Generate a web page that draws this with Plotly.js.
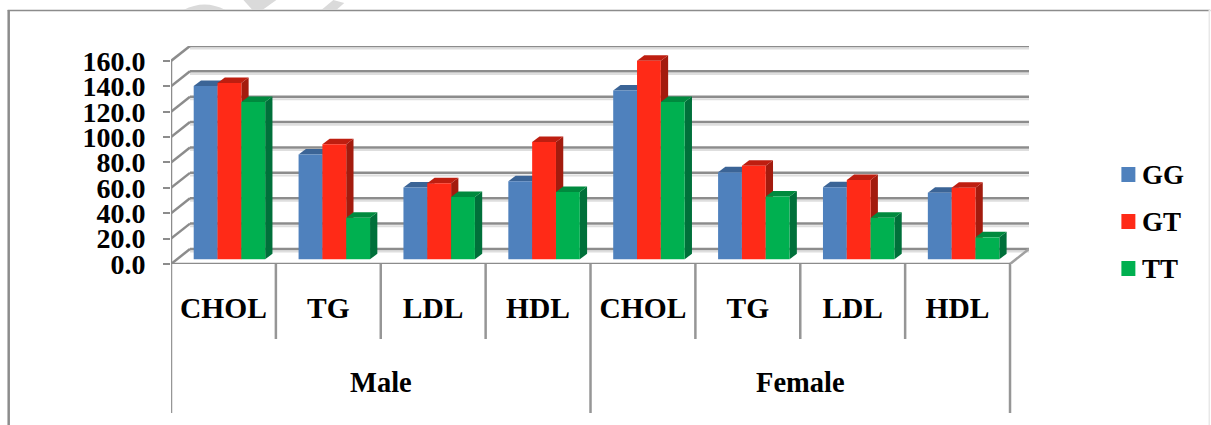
<!DOCTYPE html>
<html><head><meta charset="utf-8">
<script src="https://cdn.plot.ly/plotly-3.0.0.min.js"></script>
<style>html,body{margin:0;padding:0;background:#fff}#c{width:1211px;height:425px}</style>
</head><body><div id="c"></div>
<script>
// ---- data ----
const categories = ['CHOL','TG','LDL','HDL','CHOL','TG','LDL','HDL'];
const groups = ['Male','Female'];
const seriesNames = ['GG','GT','TT'];
const GG = [136.6, 82.5, 56.5, 61.5, 133, 68.5, 56.7, 52.5];
const GT = [139, 90.6, 60, 92.5, 156.5, 73.8, 62.5, 56.4];
const TT = [124, 32.8, 49, 53, 124, 49.4, 32.8, 17.3];
const yTicks = [0,20,40,60,80,100,120,140,160];
const yTickText = ['0.0','20.0','40.0','60.0','80.0','100.0','120.0','140.0','160.0'];
const frontColors = ['#4F81BD','#FF2A17','#00B050'];
const sideColors = ['#3A6090','#A31B0E','#00703A'];
const topColors = ['#3B6496','#BE1E10','#008A3E'];

// ---- geometry ----
const W=1211,H=425, L=170.5,T=46,B=264;
const catPx=105, pxPerUnit=1.269;
const wallDx=19/catPx, wallDy=15/pxPerUnit;       // depth of the floor
const barDx=7.3/catPx, barDy=5.5/pxPerUnit;       // depth of a bar
const barShiftX=6/catPx, barBase=4.7/pxPerUnit;   // bars stand inside the floor
const barW=23.85/catPx;
const xMax=8+wallDx, yMax=(B-T)/pxPerUnit;
const plotW=xMax*catPx, plotH=B-T;
const px=v=>(v-L)/plotW, py=v=>(B-v)/plotH;
const font=(s)=>({family:'"Liberation Serif",serif',size:s,color:'#000',weight:700});
const gridC='#8C8C8C', shadowC='#DEDEDE';

const shapes=[];
const line=(x0,y0,x1,y1,c,w,xr,yr)=>shapes.push({type:'line',layer:'below',xref:xr||'x',yref:yr||'y',x0,y0,x1,y1,line:{color:c,width:w}});
const poly=(pts,c)=>shapes.push({type:'path',layer:'below',xref:'x',yref:'y',
  path:'M'+pts.map(p=>p[0].toFixed(4)+','+p[1].toFixed(3)).join('L')+'Z',fillcolor:c,line:{width:0}});

// outer frame
line(px(7),py(10.5),px(1211),py(10.5),'#8C8C8C',1.5,'paper','paper');
line(px(8),py(10),px(8),py(425),'#8C8C8C',2.5,'paper','paper');
line(px(1210),py(10),px(1210),py(425),'#E8E8E8',1.5,'paper','paper');

// faint fragments of a watermark above the frame
[['M183,10 Q204,-1 225,10Z'],['M243,0 L276,0 L262,10 L252,10Z'],['M321,10 L333,0 L344,3 L336,10Z']].forEach(a=>{
  const p=a[0].replace(/(-?\d+),(-?\d+)/g,(m,x,y)=>px(+x).toFixed(5)+','+py(+y).toFixed(5));
  shapes.push({type:'path',layer:'below',xref:'paper',yref:'paper',path:p,fillcolor:'#DADADA',line:{width:0}});
});

// wall gridlines with their soft shadow
yTicks.forEach(v=>{
  const by=v+wallDy;
  line(wallDx,by-2,xMax,by-2,shadowC,2);
  line(0,v,wallDx,by,gridC,2.5);
  line(wallDx,by,xMax,by,gridC,2.5);
});
// floor, front edge, value axis
line(8,0,xMax,wallDy,'#A0A0A0',2.5);
line(0,-1.6,8,-1.6,shadowC,2);
line(0,0,8,0,gridC,2.5);
line(0,0,0,160,gridC,2.5);
// category separators
for(let i=0;i<=8;i++){
  const long=i%4===0;
  shapes.push({type:'line',layer:'below',xref:'x',yref:'paper',x0:i,x1:i,y0:0,y1:py(long?413:339),line:{color:'#969696',width:2.5}});
}

// side and top faces of the bars
const seriesValues=[GG,GT,TT];
const barX=(i,s)=>i+0.5+barShiftX+(s-1)*barW;
seriesValues.forEach((vals,s)=>{
  vals.forEach((v,i)=>{
    const x0=barX(i,s)-barW/2,x1=barX(i,s)+barW/2,y0=barBase,y1=barBase+v;
    poly([[x1,y0],[x1+barDx,y0+barDy],[x1+barDx,y1+barDy],[x1,y1]],sideColors[s]);
    poly([[x0,y1],[x1,y1],[x1+barDx,y1+barDy],[x0+barDx,y1+barDy]],topColors[s]);
  });
});

// front faces
const traces=seriesValues.map((vals,s)=>({
  type:'bar',name:seriesNames[s],
  x:vals.map((v,i)=>barX(i,s)),y:vals,base:vals.map(()=>barBase),width:barW,
  marker:{color:frontColors[s],line:{width:0}},hoverinfo:'skip',showlegend:false
}));

// group labels and legend
const annotations=groups.map((g,i)=>({text:'<b>'+g+'</b>',xref:'x',yref:'paper',x:2+4*i,y:py(382),
  showarrow:false,xanchor:'center',yanchor:'middle',font:font(28.5)}));
seriesNames.forEach((n,s)=>{
  const cy=174.5+47*s;
  shapes.push({type:'rect',xref:'paper',yref:'paper',x0:px(1122),x1:px(1136),y0:py(cy-7.5),y1:py(cy+7.5),fillcolor:frontColors[s],line:{width:0}});
  annotations.push({text:'<b>'+n+'</b>',xref:'paper',yref:'paper',x:px(1141),y:py(cy+0.5),showarrow:false,xanchor:'left',yanchor:'middle',font:font(27)});
});

Plotly.newPlot('c',traces,{
  width:W,height:H,showlegend:false,barmode:'overlay',
  margin:{l:L,r:W-L-plotW,t:T,b:H-B,pad:0},
  paper_bgcolor:'#fff',plot_bgcolor:'rgba(0,0,0,0)',
  xaxis:{range:[0,xMax],tickmode:'array',tickvals:categories.map((c,i)=>i+0.5),ticktext:categories.map(c=>'<b>'+c+'</b>'),
    ticks:'',showgrid:false,zeroline:false,showline:false,tickangle:0,tickfont:font(29.5),ticklabelstandoff:23,automargin:false},
  yaxis:{range:[0,yMax],tickmode:'array',tickvals:yTicks,ticktext:yTickText.map(t=>'<b>'+t+'</b>'),
    ticks:'outside',ticklen:7,tickwidth:2,tickcolor:gridC,showgrid:false,zeroline:false,showline:false,
    tickfont:font(28),ticklabelstandoff:12,automargin:false},
  shapes,annotations
},{displayModeBar:false,staticPlot:true});
</script></body></html>
